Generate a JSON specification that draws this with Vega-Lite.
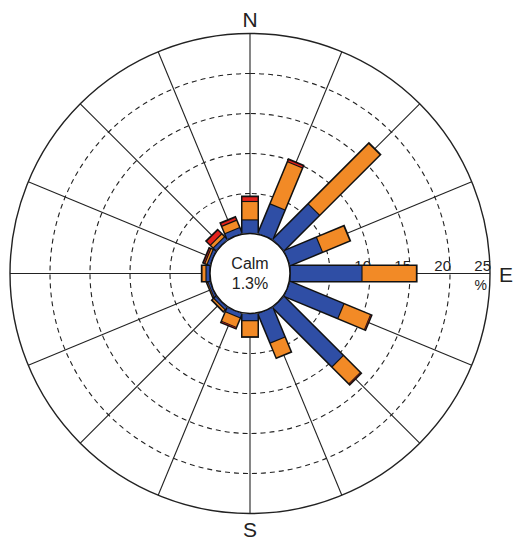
{
  "$schema": "https://vega.github.io/schema/vega-lite/v6.json",
  "width": 500,
  "height": 539,
  "autosize": {"type": "none"},
  "padding": {"left": 0, "top": 4, "right": 15, "bottom": 0},
  "background": "white",
  "config": {"view": {"stroke": null}, "font": "Liberation Sans"},
  "datasets": {
    "rose": [
      {"dir": "N", "deg": 0, "band": 1, "pct": 1.7},
      {"dir": "N", "deg": 0, "band": 2, "pct": 2.3},
      {"dir": "N", "deg": 0, "band": 3, "pct": 0.6},
      {"dir": "NNE", "deg": 22.5, "band": 1, "pct": 4.0},
      {"dir": "NNE", "deg": 22.5, "band": 2, "pct": 5.7},
      {"dir": "NNE", "deg": 22.5, "band": 3, "pct": 0.3},
      {"dir": "NE", "deg": 45, "band": 1, "pct": 6.3},
      {"dir": "NE", "deg": 45, "band": 2, "pct": 10.7},
      {"dir": "ENE", "deg": 67.5, "band": 1, "pct": 4.4},
      {"dir": "ENE", "deg": 67.5, "band": 2, "pct": 3.7},
      {"dir": "E", "deg": 90, "band": 1, "pct": 9.0},
      {"dir": "E", "deg": 90, "band": 2, "pct": 6.8},
      {"dir": "ESE", "deg": 112.5, "band": 1, "pct": 7.3},
      {"dir": "ESE", "deg": 112.5, "band": 2, "pct": 3.6},
      {"dir": "ESE", "deg": 112.5, "band": 3, "pct": 0.1},
      {"dir": "SE", "deg": 135, "band": 1, "pct": 10.5},
      {"dir": "SE", "deg": 135, "band": 2, "pct": 3.0},
      {"dir": "SE", "deg": 135, "band": 3, "pct": 0.1},
      {"dir": "SSE", "deg": 157.5, "band": 1, "pct": 4.0},
      {"dir": "SSE", "deg": 157.5, "band": 2, "pct": 2.0},
      {"dir": "S", "deg": 180, "band": 1, "pct": 0.9},
      {"dir": "S", "deg": 180, "band": 2, "pct": 2.0},
      {"dir": "SSW", "deg": 202.5, "band": 1, "pct": 0.6},
      {"dir": "SSW", "deg": 202.5, "band": 2, "pct": 1.3},
      {"dir": "SSW", "deg": 202.5, "band": 3, "pct": 0.1},
      {"dir": "SW", "deg": 225, "band": 1, "pct": 0.4},
      {"dir": "SW", "deg": 225, "band": 2, "pct": 0.3},
      {"dir": "WSW", "deg": 247.5, "band": 1, "pct": 0.3},
      {"dir": "WSW", "deg": 247.5, "band": 2, "pct": 0.1},
      {"dir": "W", "deg": 270, "band": 1, "pct": 0.5},
      {"dir": "W", "deg": 270, "band": 2, "pct": 0.5},
      {"dir": "WNW", "deg": 292.5, "band": 1, "pct": 0.4},
      {"dir": "WNW", "deg": 292.5, "band": 2, "pct": 0.3},
      {"dir": "WNW", "deg": 292.5, "band": 3, "pct": 0.2},
      {"dir": "NW", "deg": 315, "band": 1, "pct": 0.5},
      {"dir": "NW", "deg": 315, "band": 2, "pct": 0.5},
      {"dir": "NW", "deg": 315, "band": 3, "pct": 0.7},
      {"dir": "NNW", "deg": 337.5, "band": 1, "pct": 0.8},
      {"dir": "NNW", "deg": 337.5, "band": 2, "pct": 1.0},
      {"dir": "NNW", "deg": 337.5, "band": 3, "pct": 0.4}
    ],
    "rings": [
      {"pct": 5, "style": "dash"},
      {"pct": 10, "style": "dash"},
      {"pct": 15, "style": "dash"},
      {"pct": 20, "style": "dash"},
      {"pct": 25, "style": "solid"}
    ],
    "spokes": [
      {"deg": 0}, {"deg": 22.5}, {"deg": 45}, {"deg": 67.5},
      {"deg": 90}, {"deg": 112.5}, {"deg": 135}, {"deg": 157.5},
      {"deg": 180}, {"deg": 202.5}, {"deg": 225}, {"deg": 247.5},
      {"deg": 270}, {"deg": 292.5}, {"deg": 315}, {"deg": 337.5}
    ],
    "ticks": [
      {"pct": 10, "label": "10"},
      {"pct": 15, "label": "15"},
      {"pct": 20, "label": "20"},
      {"pct": 25, "label": "25"}
    ]
  },
  "layer": [
    {
      "data": {"name": "rings"},
      "transform": [
        {"filter": "datum.style === 'dash'"},
        {"calculate": "datum.pct + 5", "as": "R"}
      ],
      "mark": {"type": "arc", "theta": 6.2832, "fill": null, "stroke": "#222", "strokeWidth": 1.1, "strokeDash": [5, 4]},
      "encoding": {
        "radius": {"field": "R", "type": "quantitative", "stack": null, "scale": {"type": "linear", "domain": [0, 30], "range": [0, 240], "zero": true}}
      }
    },
    {
      "data": {"name": "rings"},
      "transform": [
        {"filter": "datum.style === 'solid'"},
        {"calculate": "datum.pct + 5", "as": "R"}
      ],
      "mark": {"type": "arc", "theta": 6.2832, "fill": null, "stroke": "#222", "strokeWidth": 1.4},
      "encoding": {
        "radius": {"field": "R", "type": "quantitative", "stack": null, "scale": {"type": "linear", "domain": [0, 30], "range": [0, 240], "zero": true}}
      }
    },
    {
      "data": {"name": "spokes"},
      "transform": [
        {"calculate": "datum.deg * PI / 180", "as": "a"},
        {"calculate": "0", "as": "x"},
        {"calculate": "0", "as": "y"},
        {"calculate": "30 * sin(datum.a)", "as": "x2"},
        {"calculate": "30 * cos(datum.a)", "as": "y2"}
      ],
      "mark": {"type": "rule", "stroke": "#222", "strokeWidth": 1.1},
      "encoding": {
        "x": {"field": "x", "type": "quantitative", "scale": {"domain": [-31.25, 31.25], "nice": false, "zero": false}, "axis": null},
        "y": {"field": "y", "type": "quantitative", "scale": {"domain": [-33.6875, 33.6875], "nice": false, "zero": false}, "axis": null},
        "x2": {"field": "x2"},
        "y2": {"field": "y2"}
      }
    },
    {
      "data": {"name": "ticks"},
      "transform": [
        {"calculate": "datum.pct + 5", "as": "x"},
        {"calculate": "0", "as": "y"}
      ],
      "mark": {"type": "text", "align": "right", "baseline": "alphabetic", "dx": 1, "dy": -3, "fontSize": 15, "color": "#222"},
      "encoding": {
        "x": {"field": "x", "type": "quantitative", "scale": {"domain": [-31.25, 31.25], "nice": false, "zero": false}, "axis": null},
        "y": {"field": "y", "type": "quantitative", "scale": {"domain": [-33.6875, 33.6875], "nice": false, "zero": false}, "axis": null},
        "text": {"field": "label"}
      }
    },
    {
      "data": {"name": "rose"},
      "transform": [
        {"joinaggregate": [{"op": "sum", "field": "pct", "as": "tot"}], "groupby": ["deg"]},
        {"filter": "datum.band === 1"},
        {"calculate": "datum.deg * PI / 180", "as": "a"},
        {"calculate": "5 * sin(datum.a)", "as": "x"},
        {"calculate": "5 * cos(datum.a)", "as": "y"},
        {"calculate": "(5 + datum.tot + 0.15) * sin(datum.a)", "as": "x2"},
        {"calculate": "(5 + datum.tot + 0.15) * cos(datum.a)", "as": "y2"}
      ],
      "mark": {"type": "rule", "stroke": "#111", "strokeWidth": 18, "strokeCap": "butt"},
      "encoding": {
        "x": {"field": "x", "type": "quantitative", "scale": {"domain": [-31.25, 31.25], "nice": false, "zero": false}, "axis": null},
        "y": {"field": "y", "type": "quantitative", "scale": {"domain": [-33.6875, 33.6875], "nice": false, "zero": false}, "axis": null},
        "x2": {"field": "x2"},
        "y2": {"field": "y2"}
      }
    },
    {
      "data": {"name": "rose"},
      "transform": [
        {"stack": "pct", "groupby": ["deg"], "sort": [{"field": "band"}], "as": ["p0", "p1"]},
        {"calculate": "datum.deg * PI / 180", "as": "a"},
        {"calculate": "(5 + datum.p0 + 0.07) * sin(datum.a)", "as": "x"},
        {"calculate": "(5 + datum.p0 + 0.07) * cos(datum.a)", "as": "y"},
        {"calculate": "(5 + datum.p1 - 0.07) * sin(datum.a)", "as": "x2"},
        {"calculate": "(5 + datum.p1 - 0.07) * cos(datum.a)", "as": "y2"}
      ],
      "mark": {"type": "rule", "strokeWidth": 15, "strokeCap": "butt"},
      "encoding": {
        "x": {"field": "x", "type": "quantitative", "scale": {"domain": [-31.25, 31.25], "nice": false, "zero": false}, "axis": null},
        "y": {"field": "y", "type": "quantitative", "scale": {"domain": [-33.6875, 33.6875], "nice": false, "zero": false}, "axis": null},
        "x2": {"field": "x2"},
        "y2": {"field": "y2"},
        "color": {"field": "band", "type": "nominal", "scale": {"domain": [1, 2, 3], "range": ["#2F4EA5", "#F28A26", "#E4221C"]}, "legend": null}
      }
    },
    {
      "data": {"values": [{"R": 5}]},
      "mark": {"type": "arc", "theta": 6.2832, "fill": "white", "stroke": "#111", "strokeWidth": 1.5},
      "encoding": {
        "radius": {"field": "R", "type": "quantitative", "stack": null, "scale": {"type": "linear", "domain": [0, 30], "range": [0, 240], "zero": true}}
      }
    },
    {
      "data": {"values": [{"text": "Calm"}]},
      "mark": {"type": "text", "align": "center", "baseline": "alphabetic", "dy": -5, "fontSize": 16, "color": "#222"},
      "encoding": {
        "x": {"datum": 0, "type": "quantitative", "scale": {"domain": [-31.25, 31.25], "nice": false, "zero": false}, "axis": null},
        "y": {"datum": 0, "type": "quantitative", "scale": {"domain": [-33.6875, 33.6875], "nice": false, "zero": false}, "axis": null},
        "text": {"field": "text"}
      }
    },
    {
      "data": {"values": [{"text": "1.3%"}]},
      "mark": {"type": "text", "align": "center", "baseline": "alphabetic", "dy": 15, "fontSize": 16, "color": "#222"},
      "encoding": {
        "x": {"datum": 0, "type": "quantitative", "scale": {"domain": [-31.25, 31.25], "nice": false, "zero": false}, "axis": null},
        "y": {"datum": 0, "type": "quantitative", "scale": {"domain": [-33.6875, 33.6875], "nice": false, "zero": false}, "axis": null},
        "text": {"field": "text"}
      }
    },
    {
      "data": {"values": [{"text": "N"}]},
      "mark": {"type": "text", "align": "center", "baseline": "alphabetic", "dy": -7, "fontSize": 21, "color": "#222"},
      "encoding": {
        "x": {"datum": 0, "type": "quantitative", "scale": {"domain": [-31.25, 31.25], "nice": false, "zero": false}, "axis": null},
        "y": {"datum": 30, "type": "quantitative", "scale": {"domain": [-33.6875, 33.6875], "nice": false, "zero": false}, "axis": null},
        "text": {"field": "text"}
      }
    },
    {
      "data": {"values": [{"text": "S"}]},
      "mark": {"type": "text", "align": "center", "baseline": "alphabetic", "dy": 23, "fontSize": 21, "color": "#222"},
      "encoding": {
        "x": {"datum": 0, "type": "quantitative", "scale": {"domain": [-31.25, 31.25], "nice": false, "zero": false}, "axis": null},
        "y": {"datum": -30, "type": "quantitative", "scale": {"domain": [-33.6875, 33.6875], "nice": false, "zero": false}, "axis": null},
        "text": {"field": "text"}
      }
    },
    {
      "data": {"values": [{"text": "E"}]},
      "mark": {"type": "text", "align": "left", "baseline": "alphabetic", "dx": 9, "dy": 8, "fontSize": 21, "color": "#222"},
      "encoding": {
        "x": {"datum": 30, "type": "quantitative", "scale": {"domain": [-31.25, 31.25], "nice": false, "zero": false}, "axis": null},
        "y": {"datum": 0, "type": "quantitative", "scale": {"domain": [-33.6875, 33.6875], "nice": false, "zero": false}, "axis": null},
        "text": {"field": "text"}
      }
    },
    {
      "data": {"values": [{"text": "%"}]},
      "mark": {"type": "text", "align": "right", "baseline": "alphabetic", "dx": -3, "dy": 16, "fontSize": 14, "color": "#222"},
      "encoding": {
        "x": {"datum": 30, "type": "quantitative", "scale": {"domain": [-31.25, 31.25], "nice": false, "zero": false}, "axis": null},
        "y": {"datum": 0, "type": "quantitative", "scale": {"domain": [-33.6875, 33.6875], "nice": false, "zero": false}, "axis": null},
        "text": {"field": "text"}
      }
    }
  ]
}
